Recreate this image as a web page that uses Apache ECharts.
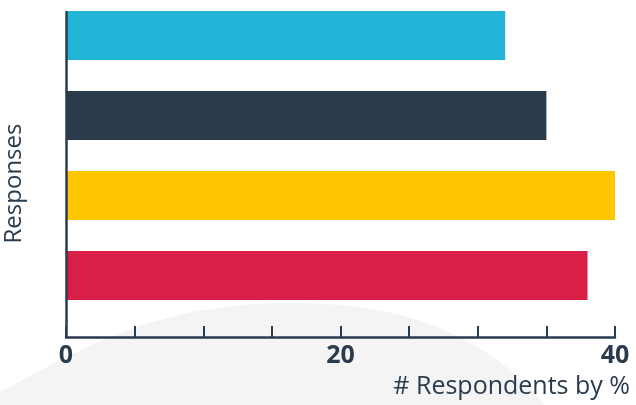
<!DOCTYPE html>
<html>
<head>
<meta charset="utf-8">
<style>
  html, body { margin: 0; padding: 0; background: #ffffff; }
  #chart { width: 636px; height: 405px; }
</style>
<script src="https://cdn.jsdelivr.net/npm/echarts@6/dist/echarts.min.js"></script>
</head>
<body>
<div id="chart"></div>
<script>
// Survey responses, share of respondents in percent
const categories = ['Response 1', 'Response 2', 'Response 3', 'Response 4'];
const values = [32, 35, 40, 38];
const barColors = ['#23b5d7', '#2a3b4c', '#fec600', '#d91e47'];
const tickLabels = [0, 20, 40];

const ink = '#2a3b4d';

// Outline of the soft backdrop shape: two cubic curves sampled into a polygon
function cubic(p0, p1, p2, p3, steps) {
  const pts = [];
  for (let i = 0; i <= steps; i++) {
    const t = i / steps, u = 1 - t;
    pts.push([
      u * u * u * p0[0] + 3 * u * u * t * p1[0] + 3 * u * t * t * p2[0] + t * t * t * p3[0],
      u * u * u * p0[1] + 3 * u * u * t * p1[1] + 3 * u * t * t * p2[1] + t * t * t * p3[1]
    ]);
  }
  return pts;
}
const backdrop = []
  .concat(cubic([0, 392], [80, 350], [150, 305], [283, 303], 40))
  .concat(cubic([283, 303], [400, 302], [480, 330], [545, 405], 40).slice(1))
  .concat([[0, 405]]);

const chart = echarts.init(document.getElementById('chart'), null, { renderer: 'canvas' });

chart.setOption({
  animation: false,
  backgroundColor: '#ffffff',
  graphic: [{
    type: 'polygon',
    z: -10,
    silent: true,
    shape: { points: backdrop },
    style: { fill: '#f4f4f4' }
  }],
  grid: [
    // frame: the two axis lines and the value ticks
    { left: 66, right: 21, top: 12, bottom: 68, containLabel: false, outerBoundsMode: 'none' },
    // bars
    { left: 66, right: 21, top: -4.5, height: 320, containLabel: false, outerBoundsMode: 'none' }
  ],
  xAxis: [
    {
      gridIndex: 0,
      type: 'value',
      z: 5,
      min: 0,
      max: 40,
      interval: 5,
      splitLine: { show: false },
      axisLine: { show: true, lineStyle: { color: ink, width: 2.5, cap: 'round' } },
      axisTick: { show: true, inside: true, length: 11, lineStyle: { color: ink, width: 2 } },
      axisLabel: {
        show: true,
        margin: 6,
        color: ink,
        fontFamily: 'Open Sans',
        fontWeight: 'bold',
        fontSize: 25,
        showMinLabel: true,
        showMaxLabel: true,
        formatter: function (v) { return tickLabels.indexOf(v) >= 0 ? String(v) : ''; }
      },
      name: '# Respondents by %',
      nameLocation: 'end',
      nameGap: 15,
      nameTextStyle: {
        color: ink,
        fontFamily: 'Open Sans',
        fontSize: 25,
        align: 'right',
        verticalAlign: 'top',
        padding: [37, 0, 0, 0]
      }
    },
    {
      gridIndex: 1,
      type: 'value',
      min: 0,
      max: 40,
      show: false
    }
  ],
  yAxis: [
    {
      gridIndex: 0,
      type: 'value',
      z: 5,
      min: 0,
      max: 1,
      splitLine: { show: false },
      axisTick: { show: false },
      axisLabel: { show: false },
      axisLine: { show: true, lineStyle: { color: ink, width: 2.5, cap: 'round' } },
      name: 'Responses',
      nameLocation: 'middle',
      nameRotate: 90,
      nameGap: 40,
      nameTextStyle: {
        color: ink,
        fontFamily: 'Open Sans',
        fontSize: 24,
        padding: [0, 18, 0, 0]
      }
    },
    {
      gridIndex: 1,
      type: 'category',
      inverse: true,
      data: categories,
      show: false
    }
  ],
  series: [{
    type: 'bar',
    xAxisIndex: 1,
    yAxisIndex: 1,
    barWidth: 49,
    z: 2,
    data: values.map(function (v, i) {
      return { value: v, itemStyle: { color: barColors[i] } };
    })
  }]
});
</script>
</body>
</html>
